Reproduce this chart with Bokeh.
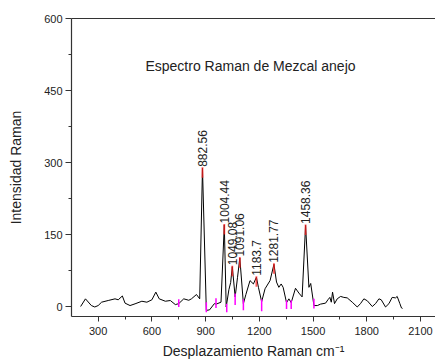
import numpy as np
from bokeh.plotting import figure
from bokeh.models import FixedTicker, LinearAxis, Label, ColumnDataSource
from bokeh.core.properties import value
from bokeh.embed import file_html
from bokeh.resources import INLINE

# Spectrum (Raman shift, intensity)
shift = [202, 229, 262, 281, 300, 319, 356, 394, 412, 435, 450, 478, 506, 544, 572, 600,
         622, 641, 675, 703, 731, 750, 778, 806, 821, 849, 867, 882.56, 904, 922, 949, 959,
         986, 1004.44, 1015, 1030, 1040, 1049.08, 1065, 1078, 1091.06, 1111, 1125, 1148, 1167,
         1183.7, 1195, 1213, 1232, 1260, 1281.77, 1296, 1309, 1322, 1333, 1352, 1365, 1378,
         1402, 1421, 1439, 1458.36, 1477, 1487, 1505, 1524, 1542, 1570, 1583, 1594, 1602,
         1609, 1620, 1635, 1654, 1672, 1691, 1719, 1747, 1765, 1784, 1803, 1831, 1849, 1868,
         1881, 1905, 1924, 1942, 1961, 1970, 1985, 1994, 2000]
intensity = [0, 16, 2, -1, 2, 9, 12.5, 16, 14, 22, 7, 2, 5.6, 11, 9, 14,
             30, 16, 11, 12.5, 4, 6, 16, 13, 16, 25, 16, 288, -8, -7, 6, 5,
             9, 170, -1, 35, 50, 83, 20, 60, 101, 6, 25, 54, 47,
             61, 40, 10, 37, 54, 88, 51, 40, 47, 40, 8, 16, 8,
             38, 28, 20, 169, 40, 48, 2, 2, 5, 7, 14, 19, 9,
             30, 6, 16, 21, 19, 18, 9, -1, 6, 16, 12, 0, 6, 16,
             14, -1, 6, 19, 18, 21, 6, -3, -4]

# Labelled peaks
peak_x = [882.56, 1004.44, 1049.08, 1091.06, 1183.7, 1281.77, 1458.36]
peak_top = [290, 172, 85, 103, 63, 90, 171]
peak_text = ["882.56", "1004.44", "1049.08", "1091.06", "1183.7", "1281.77", "1458.36"]
peak_bottom = [v - 22 for v in peak_top]

# Baseline anchor markers
base_x = [750, 904, 958, 1018, 1065, 1111, 1213, 1352, 1378, 1505]
base_top = [15, 9, 17, 6, 27, 15, 15, 13, 13, 16]
base_bottom = [-1, -12, -3, -12, 3, -8, -10, -5, -5, -4]

x_major = [300, 600, 900, 1200, 1500, 1800, 2100]
x_minor = [450, 750, 1050, 1350, 1650, 1950]
y_major = [0, 150, 300, 450, 600]
y_minor = [75, 225, 375, 525]

FONT = "Liberation Sans"
AX = "#333333"

p = figure(width=435, height=362, x_range=(151, 2184), y_range=(-20.8, 600),
           output_backend="svg", toolbar_location=None,
           min_border_left=71, min_border_right=0, min_border_top=18, min_border_bottom=46)
p.grid.visible = False
p.outline_line_color = None
p.background_fill_color = "white"

for ax in (p.xaxis[0], p.yaxis[0]):
    ax.axis_line_color = AX
    ax.axis_line_width = 1.2
    ax.major_tick_line_color = AX
    ax.minor_tick_line_color = AX
    ax.major_tick_in = 0
    ax.minor_tick_in = 0
    ax.major_label_text_font = FONT
    ax.major_label_text_font_size = "11px"
    ax.major_label_text_color = "#222222"
    ax.axis_label_text_font = FONT
    ax.axis_label_text_font_size = "14px"
    ax.axis_label_text_font_style = "normal"
    ax.axis_label_text_color = "#222222"

p.xaxis[0].ticker = FixedTicker(ticks=x_major, minor_ticks=x_minor)
p.xaxis[0].major_tick_out = 5
p.xaxis[0].minor_tick_out = 3
p.xaxis[0].major_label_standoff = 5
p.xaxis[0].axis_label = "Desplazamiento Raman cm\u207b\u00b9"
p.xaxis[0].axis_label_standoff = 5

p.yaxis[0].ticker = FixedTicker(ticks=y_major, minor_ticks=y_minor)
p.yaxis[0].major_tick_out = 6
p.yaxis[0].minor_tick_out = 3
p.yaxis[0].major_label_standoff = 3
p.yaxis[0].axis_label = "Intensidad Raman"
p.yaxis[0].axis_label_standoff = 17

top = LinearAxis(ticker=FixedTicker(ticks=[]), major_label_text_font_size="0px",
                 major_tick_out=0, minor_tick_out=0, major_label_standoff=0,
                 axis_line_color=AX, axis_line_width=1.2)
p.add_layout(top, "above")

p.line(shift, intensity, line_color="black", line_width=1)

p.segment(x0=peak_x, y0=peak_bottom, x1=peak_x, y1=peak_top,
          line_color="#ff2020", line_width=1.8, line_alpha=0.75)
p.segment(x0=base_x, y0=base_bottom, x1=base_x, y1=base_top,
          line_color="#ff00ff", line_width=1.5)

src = ColumnDataSource(dict(x=peak_x, y=[v + 1 for v in peak_top], t=peak_text))
p.text(x="x", y="y", text="t", source=src, angle=np.pi / 2,
       text_align="left", text_baseline="middle",
       text_font=value(FONT), text_font_size="12px", text_color="#222222")

p.add_layout(Label(x=564, y=502, text="Espectro Raman de Mezcal anejo",
                   text_font=FONT, text_font_size="14px", text_color="#222222",
                   text_baseline="alphabetic", text_align="left"))

open("out.html", "w").write(file_html(p, INLINE))
